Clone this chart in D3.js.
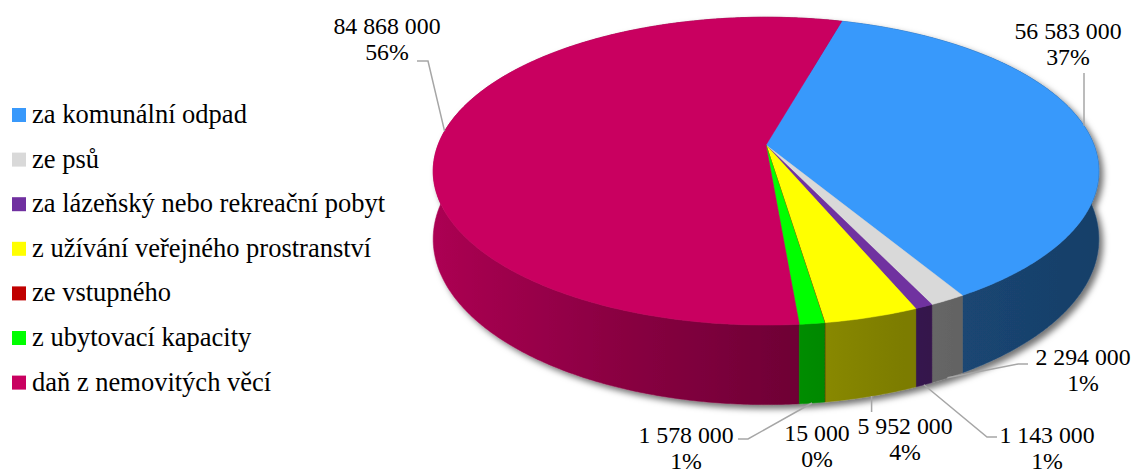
<!DOCTYPE html>
<html>
<head>
<meta charset="utf-8">
<style>
    body { margin: 0; background: #fff; }
    svg { display: block; }
    .legend-label { font-family: "Liberation Serif", "Times New Roman", Times, "DejaVu Serif", serif; font-size: 26.5px; fill: #000; }
    .data-label { font-family: "Liberation Serif", "Times New Roman", Times, "DejaVu Serif", serif; font-size: 23.8px; fill: #000; }
    .leader { fill: none; stroke: #a6a6a6; stroke-width: 1.5; }
</style>
</head>
<body>
<svg width="1133" height="473"></svg>

<script src="https://d3js.org/d3.v7.min.js"></script>
<script>

    // data
    let categories = [
        "za komunální odpad",
        "ze psů",
        "za lázeňský nebo rekreační pobyt",
        "z užívání veřejného prostranství",
        "ze vstupného",
        "z ubytovací kapacity",
        "daň z nemovitých věcí"
    ]
    let values = [56583000, 2294000, 1143000, 5952000, 15000, 1578000, 84868000]
    let percentLabels = ["37%", "1%", "1%", "4%", "0%", "1%", "56%"]
    let colors = ["#3999fb", "#d9d9d9", "#7030a0", "#ffff00", "#c00000", "#00ff00", "#c90060"]

    let svg = d3.select("svg")

    // pie geometry (simple perspective view of a disc)
    let cx = 766, cy = 145
    let R = 328, Ry = 149.5, D = 5.89, depth = 66
    let startDeg = 15.6

    function proj(a, drop) {
        let u = Math.sin(a), v = -Math.cos(a)
        let s = D / (D - v)
        return [cx + R * u * s, cy + Ry * v * s + drop * s]
    }

    function rim(a0, a1, drop, stepRad) {
        let n = Math.max(2, Math.ceil(Math.abs(a1 - a0) / stepRad))
        return d3.range(n + 1).map(k => proj(a0 + (a1 - a0) * k / n, drop))
    }

    let fmt = d3.formatLocale({ decimal: ",", thousands: " ", grouping: [3], currency: ["", ""] }).format(",")

    let start = startDeg * Math.PI / 180
    let arcs = d3.pie().sort(null).startAngle(start).endAngle(start + 2 * Math.PI)(values)

    let color = d3.scaleOrdinal().domain(categories).range(colors)

    function shade(c, u) {
        let f = 0.42 + 0.43 * Math.pow((1 - u) / 2, 1.5)
        let rgb = d3.rgb(c)
        return d3.rgb(rgb.r * f, rgb.g * f, rgb.b * f).formatHex()
    }

    let defs = svg.append("defs")
    let filter = defs.append("filter").attr("id", "shadow")
        .attr("x", "-10%").attr("y", "-10%").attr("width", "130%").attr("height", "130%")
    filter.append("feDropShadow")
        .attr("dx", 4).attr("dy", 4).attr("stdDeviation", 3)
        .attr("flood-color", "#000").attr("flood-opacity", 0.55)

    // one horizontal gradient per slice for its side wall
    colors.forEach((c, i) => {
        let g = defs.append("linearGradient").attr("id", "side" + i)
            .attr("gradientUnits", "userSpaceOnUse")
            .attr("x1", cx - R).attr("x2", cx + R).attr("y1", 0).attr("y2", 0)
        d3.range(0, 1.0001, 0.1).forEach(t => {
            g.append("stop").attr("offset", t).attr("stop-color", shade(c, t * 2 - 1))
        })
    })

    let pie = svg.append("g").attr("filter", "url(#shadow)")

    // side walls, back to front
    let order = arcs.map((d, i) => i)
        .sort((a, b) => -Math.cos((arcs[a].startAngle + arcs[a].endAngle) / 2) + Math.cos((arcs[b].startAngle + arcs[b].endAngle) / 2))

    pie.append("g")
        .selectAll("path")
        .data(order)
        .join("path")
        .attr("d", i => {
            let d = arcs[i]
            let pts = rim(d.startAngle, d.endAngle, 0, Math.PI / 360)
                .concat(rim(d.endAngle, d.startAngle, depth, Math.PI / 360))
            return "M" + pts.map(q => q.join(",")).join("L") + "Z"
        })
        .attr("fill", i => `url(#side${i})`)
        .attr("stroke", i => `url(#side${i})`)
        .attr("stroke-width", 0.5)

    // top faces
    pie.append("g")
        .selectAll("path")
        .data(arcs)
        .join("path")
        .attr("d", d => {
            let pts = rim(d.startAngle, d.endAngle, 0, Math.PI / 360)
            return "M" + cx + "," + cy + "L" + pts.map(q => q.join(",")).join("L") + "Z"
        })
        .attr("fill", (d, i) => colors[i])
        .attr("stroke", (d, i) => colors[i])
        .attr("stroke-width", 0.5)

    // data labels: text centre, first baseline, leader bend (null x = straight down/up)
    let labelLayout = [
        { x: 1068, y: 39, bend: [[null, 73]], top: true },
        { x: 1083, y: 365, bend: [[1018, 364], [1028, 364]] },
        { x: 1047, y: 443, bend: [[987, 437], [997, 437]] },
        { x: 905, y: 434, bend: [[null, 412]] },
        { x: 817, y: 441, bend: null },
        { x: 686, y: 443, bend: [[748, 439], [738, 439]] },
        { x: 387, y: 34, bend: [[428, 61], [417, 61]], top: true }
    ]

    arcs.forEach((d, i) => {
        let L = labelLayout[i]
        let mid = (d.startAngle + d.endAngle) / 2
        if (L.bend) {
            let anchor = proj(mid, L.top ? 0 : depth)
            let pts = [anchor].concat(L.bend.map(b => [b[0] === null ? anchor[0] : b[0], b[1]]))
            svg.append("path")
                .attr("class", "leader")
                .attr("d", d3.line()(pts))
        }
        let t = svg.append("text")
            .attr("class", "data-label")
            .attr("text-anchor", "middle")
        t.append("tspan").attr("x", L.x).attr("y", L.y).text(fmt(values[i]))
        t.append("tspan").attr("x", L.x).attr("y", L.y + 26).text(percentLabels[i])
    })

    // legend
    let legend = svg.append("g")
        .selectAll("g")
        .data(categories)
        .join("g")
        .attr("transform", (d, i) => `translate(12,${115 + i * 44.6})`)

    legend.append("rect")
        .attr("x", 0).attr("y", -7)
        .attr("width", 14).attr("height", 14)
        .attr("fill", d => color(d))

    legend.append("text")
        .attr("class", "legend-label")
        .attr("x", 20)
        .attr("y", 8)
        .text(d => d)

</script>
</body>
</html>
